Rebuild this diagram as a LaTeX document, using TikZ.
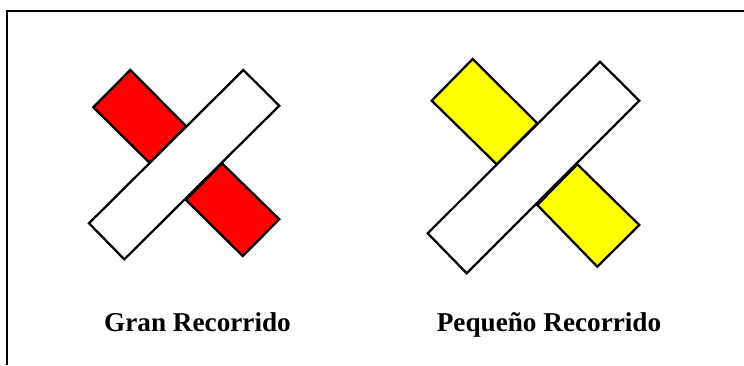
\documentclass[tikz,border=0pt]{standalone}
\usepackage{fontspec}
\setmainfont{Liberation Serif}
\usepackage{xcolor}
\usepackage{tikz}
\definecolor{signred}{RGB}{255,0,0}
\definecolor{signyellow}{RGB}{255,255,0}
\tikzset{
    bar/.style={draw=black, line width=1.7pt, line join=miter},
    frameline/.style={draw=black, line width=1.6pt},
    caption/.style={font=\bfseries\fontsize{20.4}{24}\selectfont, inner sep=0pt, anchor=base}
}

\begin{document}
\begin{tikzpicture}[x=0.75pt, y=-0.75pt]
        \useasboundingbox (0, 0) rectangle (744, 365);
        \fill[white] (0, 0) rectangle (744, 365);
        \coordinate (framestart) at (7, 365);
        \coordinate (framecorner) at (7, 11);
        \coordinate (frameend) at (744, 11);
        \draw[frameline] (framestart) -- (framecorner) -- (frameend);
        % red sign
        \draw[bar, fill=signred] (130.3, 70) -- (93.3, 107.3) -- (150, 163.3) -- (186, 126) -- cycle;
        \draw[bar, fill=signred] (222, 163.3) -- (279.3, 219.3) -- (242.7, 256) -- (186, 200) -- cycle;
        \draw[bar, fill=white] (243.3, 70) -- (279.3, 105.7) -- (124.3, 259.3) -- (89, 223.3) -- cycle;
        % yellow sign
        \draw[bar, fill=signyellow] (472.7, 59) -- (431.7, 100.7) -- (496.7, 164.3) -- (537.3, 123.3) -- cycle;
        \draw[bar, fill=signyellow] (577.3, 164.3) -- (639.3, 225) -- (597.3, 266.7) -- (537.3, 205) -- cycle;
        \draw[bar, fill=white] (600, 61.7) -- (639.3, 100.7) -- (466.7, 273.3) -- (427.7, 233.3) -- cycle;
        \node[caption] (gran) at (197.5, 331) {Gran Recorrido};
        \node[caption] (pequeno) at (549, 331) {Pequeño Recorrido};
    \end{tikzpicture}
\end{document}
